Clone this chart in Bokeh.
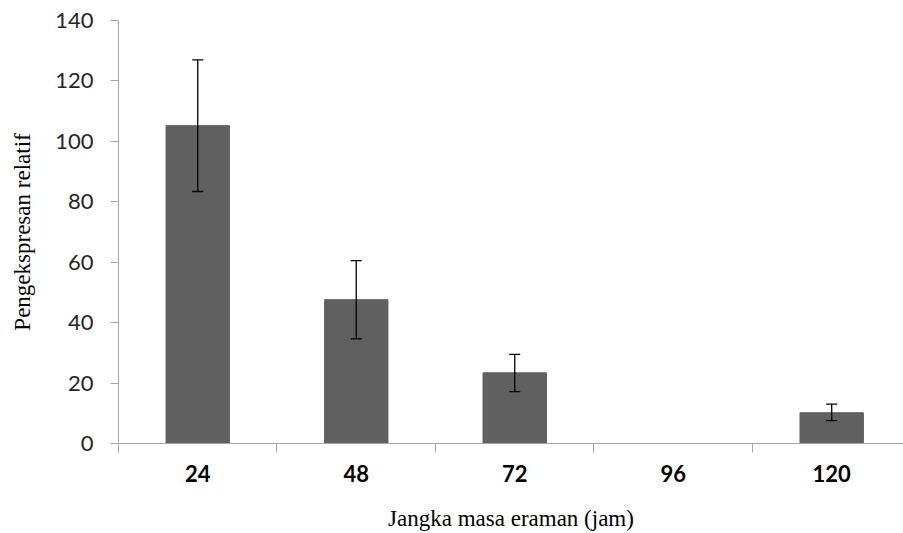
from bokeh.plotting import figure
from bokeh.models import ColumnDataSource, Whisker, TeeHead, FixedTicker
from bokeh.embed import file_html
from bokeh.resources import INLINE

categories = ["24", "48", "72", "96", "120"]
values = [105.2, 47.6, 23.4, 0.0, 10.2]
err_low = [83.4, 34.6, 17.2, 0.0, 7.6]
err_high = [127.0, 60.5, 29.5, 0.0, 13.0]
y_ticks = [0, 20, 40, 60, 80, 100, 120, 140]

xs = list(range(len(categories)))
has_err = [h > 0 for h in err_high]
src = ColumnDataSource(dict(x=xs, top=values, cat=categories))
esrc = ColumnDataSource(dict(
    x=[x for x, e in zip(xs, has_err) if e],
    lo=[l for l, e in zip(err_low, has_err) if e],
    hi=[h for h, e in zip(err_high, has_err) if e],
))

p = figure(width=903, height=533, output_backend="svg", toolbar_location=None,
           x_range=(-0.5, 4.453), y_range=(0, 140),
           min_border_left=118, min_border_right=0, min_border_top=20, min_border_bottom=90)
p.outline_line_color = None
p.grid.grid_line_color = None

p.vbar(x="x", top="top", width=0.4, source=src, fill_color="#606060", line_color="#606060")

w = Whisker(base="x", lower="lo", upper="hi", source=esrc, line_color="#000000", line_width=1.3,
            level="overlay",
            upper_head=TeeHead(size=11, line_color="#000000", line_width=1.3),
            lower_head=TeeHead(size=11, line_color="#000000", line_width=1.3))
p.add_layout(w)

# y axis
p.yaxis.ticker = FixedTicker(ticks=y_ticks)
p.yaxis.axis_line_color = "#a6a6a6"
p.yaxis.major_tick_line_color = "#a6a6a6"
p.yaxis.major_tick_out = 8
p.yaxis.major_tick_in = 0
p.yaxis.minor_tick_line_color = None
p.yaxis.major_label_text_font = "Lato"
p.yaxis.major_label_text_font_size = "22px"
p.yaxis.major_label_text_color = "#262626"
p.yaxis.major_label_standoff = 17
p.yaxis.axis_label = "Pengekspresan relatif"
p.yaxis.axis_label_text_font = "Liberation Serif"
p.yaxis.axis_label_text_font_style = "normal"
p.yaxis.axis_label_text_font_size = "23px"
p.yaxis.axis_label_text_color = "#000000"
p.yaxis.axis_label_standoff = 17

# x axis
p.xaxis.ticker = FixedTicker(ticks=xs, minor_ticks=[x - 0.5 for x in xs])
p.xaxis.major_label_overrides = {x: c for x, c in zip(xs, categories)}
p.xaxis.axis_line_color = "#a6a6a6"
p.xaxis.major_tick_line_color = None
p.xaxis.major_tick_out = 0
p.xaxis.major_tick_in = 0
p.xaxis.minor_tick_line_color = "#a6a6a6"
p.xaxis.minor_tick_out = 9
p.xaxis.minor_tick_in = 0
p.xaxis.major_label_text_font = "Lato"
p.xaxis.major_label_text_font_style = "bold"
p.xaxis.major_label_text_font_size = "22px"
p.xaxis.major_label_text_color = "#000000"
p.xaxis.major_label_standoff = 12
p.xaxis.axis_label = "Jangka masa eraman (jam)"
p.xaxis.axis_label_text_font = "Liberation Serif"
p.xaxis.axis_label_text_font_style = "normal"
p.xaxis.axis_label_text_font_size = "23px"
p.xaxis.axis_label_text_color = "#000000"
p.xaxis.axis_label_standoff = 21

open("out.html", "w").write(file_html(p, INLINE))
